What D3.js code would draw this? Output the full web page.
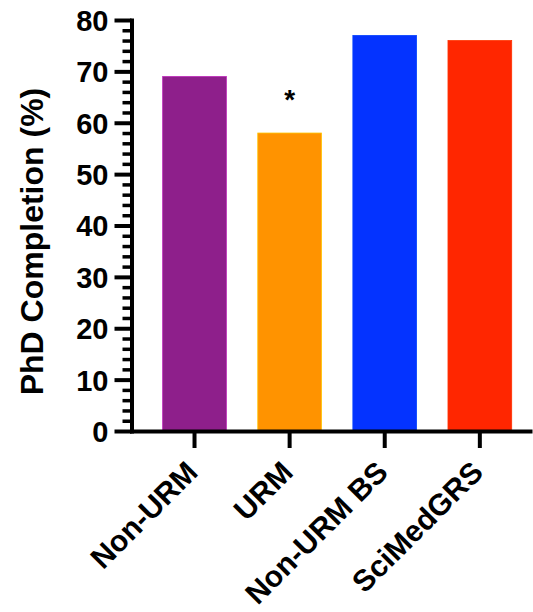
<!DOCTYPE html>
<html><head><meta charset="utf-8">
<script src="https://cdn.jsdelivr.net/npm/d3@7"></script>
<style>
html,body{margin:0;padding:0;background:#fff;}
svg{display:block;}
text{font-family:"Liberation Sans",Arial,Helvetica,sans-serif;font-weight:bold;fill:#000;}
</style></head>
<body>
<svg id="chart" width="533" height="612"></svg>
<script>
const categories = ["Non-URM", "URM", "Non-URM BS", "SciMedGRS"];
const values = [69, 58, 77, 76];
const colors = ["#8E1F8B", "#FF9300", "#0433FF", "#FF2600"];
const yMajorTicks = [0, 10, 20, 30, 40, 50, 60, 70, 80];
const yMinorTicks = d3.range(0, 81, 2).filter(v => v % 10 !== 0);
const significance = ["", "*", "", ""];
const yTitle = "PhD Completion (%)";

const svg = d3.select("#chart");
const axisX = 131.5, baseY = 431;

const x = d3.scaleBand().domain(categories).range([axisX, 530])
  .paddingInner(0.33).paddingOuter(0.26).align(0.63);
const y = d3.scaleLinear().domain([0, 80]).range([baseY, 20]);

// bars
svg.append("g").selectAll("rect").data(categories).join("rect")
  .attr("x", d => x(d))
  .attr("width", x.bandwidth())
  .attr("y", (d, i) => y(values[i]))
  .attr("height", (d, i) => y(0) - y(values[i]))
  .attr("fill", (d, i) => colors[i])
  .attr("stroke", (d, i) => d3.color(colors[i]).brighter(0.8))
  .attr("stroke-width", 0.8);

// significance markers
svg.append("g").selectAll("text").data(categories).join("text")
  .attr("x", d => x(d) + x.bandwidth() / 2)
  .attr("y", (d, i) => y(values[i]) - 24)
  .attr("text-anchor", "middle")
  .attr("font-size", 28)
  .text((d, i) => significance[i]);

// y minor ticks
const gMinor = svg.append("g").attr("transform", `translate(${axisX},0)`)
  .call(d3.axisLeft(y).tickValues(yMinorTicks).tickSize(9).tickFormat(""));
gMinor.select(".domain").remove();
gMinor.selectAll("line").attr("stroke", "#000").attr("stroke-width", 3.5);

// y major axis
const gY = svg.append("g").attr("transform", `translate(${axisX},0)`)
  .call(d3.axisLeft(y).tickValues(yMajorTicks).tickSize(17).tickSizeOuter(0).tickPadding(6));
gY.select(".domain").attr("stroke", "#000").attr("stroke-width", 4).attr("stroke-linecap", "square");
gY.selectAll("line").attr("stroke", "#000").attr("stroke-width", 4);
gY.selectAll("text").attr("font-size", 29).attr("font-family", null).attr("dy", "0.36em");

// x axis
const gX = svg.append("g").attr("transform", `translate(0,${baseY})`)
  .call(d3.axisBottom(x).tickSize(17).tickSizeOuter(0).tickPadding(4));
gX.select(".domain").attr("stroke", "#000").attr("stroke-width", 4).attr("stroke-linecap", "square");
gX.selectAll("line").attr("stroke", "#000").attr("stroke-width", 4);
gX.selectAll("text")
  .attr("font-size", 30).attr("font-family", null)
  .attr("text-anchor", "end")
  .attr("dy", null)
  .attr("y", 0)
  .attr("transform", "translate(5,43) rotate(-45)");

// y title
svg.append("text")
  .attr("transform", `translate(43,${(85 + 398) / 2}) rotate(-90)`)
  .attr("text-anchor", "middle")
  .attr("font-size", 32)
  .text(yTitle);
</script>
</body></html>
